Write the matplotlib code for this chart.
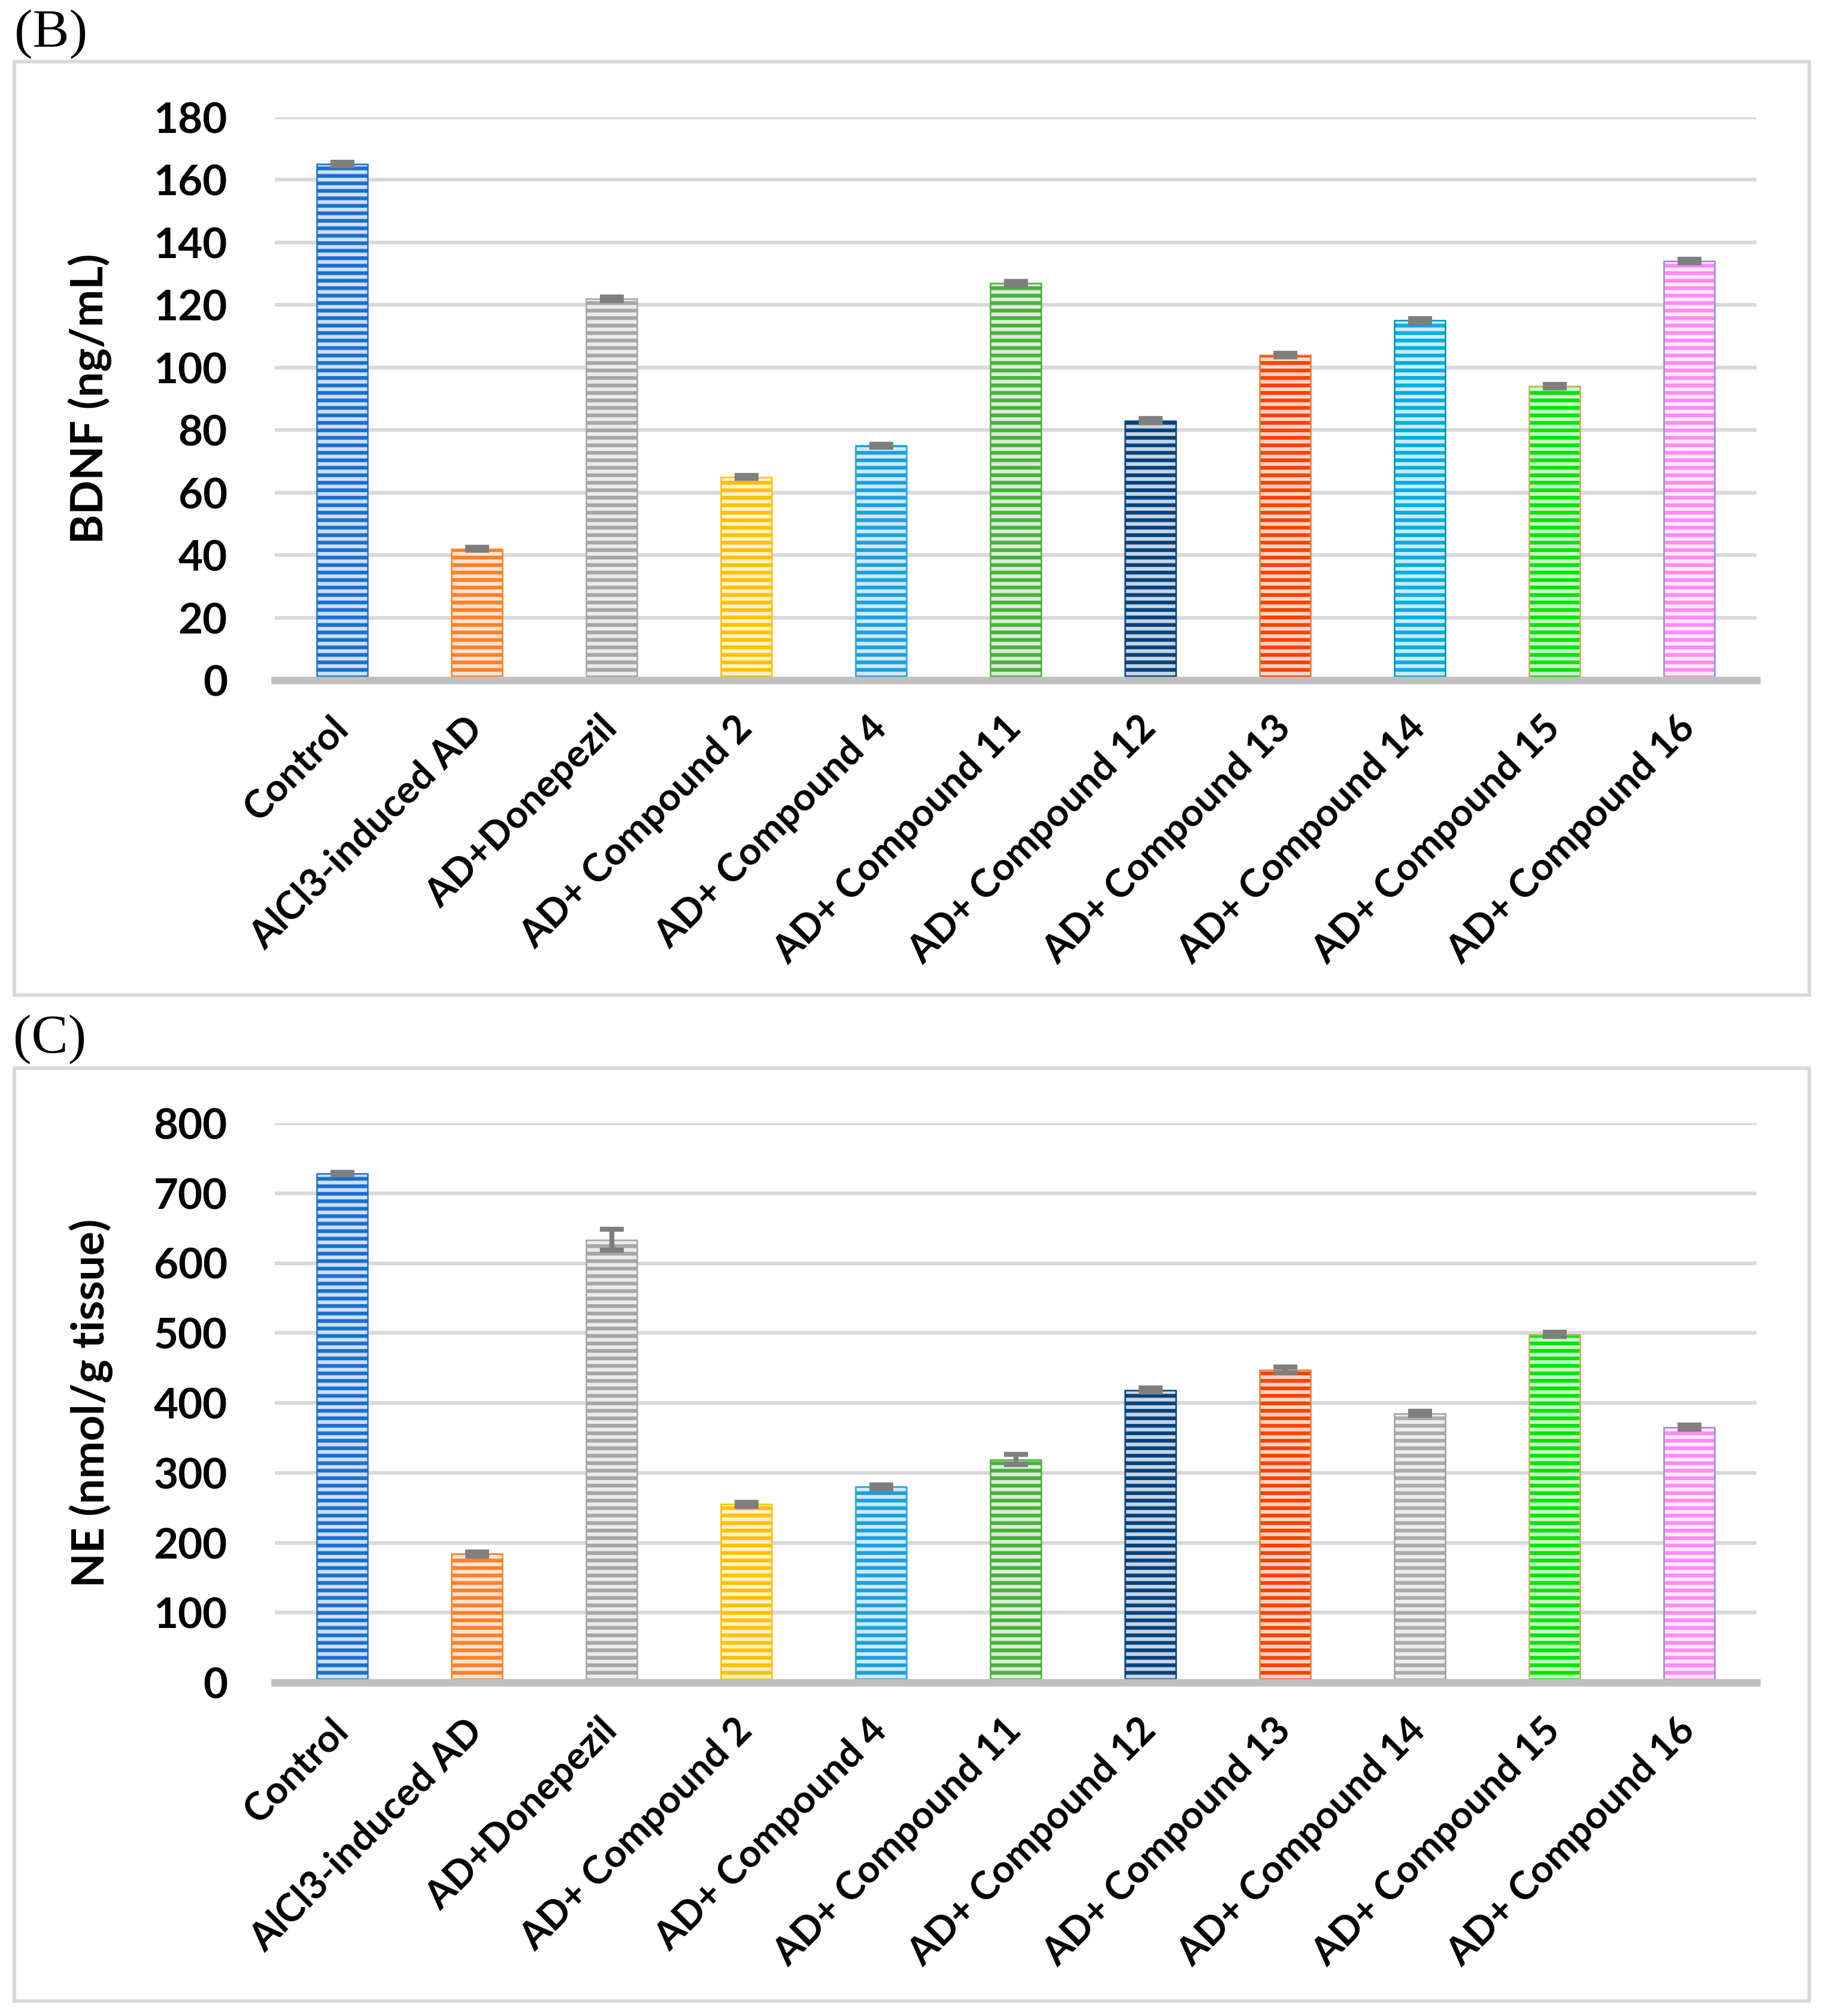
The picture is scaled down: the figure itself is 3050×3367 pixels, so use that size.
import matplotlib
matplotlib.use("Agg")
import matplotlib.pyplot as plt
from matplotlib.patches import Rectangle
from matplotlib.colors import to_rgb
import numpy as np

# data
groups = ["Control", "AlCl3-induced AD", "AD+Donepezil", "AD+ Compound 2",
          "AD+ Compound 4", "AD+ Compound 11", "AD+ Compound 12",
          "AD+ Compound 13", "AD+ Compound 14", "AD+ Compound 15",
          "AD+ Compound 16"]

bdnf = [165, 42, 122, 65, 75, 127, 83, 104, 115, 94, 134]
bdnf_err = [0.6, 0.5, 0.6, 0.5, 0.5, 0.6, 0.6, 0.6, 0.6, 0.6, 0.6]
bdnf_ticks = [0, 20, 40, 60, 80, 100, 120, 140, 160, 180]

ne = [728, 184, 633, 255, 280, 319, 418, 447, 385, 498, 365]
ne_err = [2, 3, 15, 3, 3, 7, 3, 4, 3, 3, 3]
ne_ticks = [0, 100, 200, 300, 400, 500, 600, 700, 800]

colors_b = ["#1C6FCB", "#FF8129", "#A6A6A6", "#FFC000", "#1E9FDD", "#4CAF3E",
            "#00427E", "#FF4000", "#00ACE0", "#00E400", "#FF8CF2"]
edges_b = ["#1C6FCB", "#FF8129", "#A6A6A6", "#FFC000", "#1E9FDD", "#4CAF3E",
           "#00427E", "#E0803C", "#0090B4", "#D2A85C", "#8C8CD8"]
colors_c = list(colors_b)
colors_c[8] = "#ABABAB"
edges_c = list(edges_b)
edges_c[8] = "#A0A0A0"

plt.rcParams["hatch.linewidth"] = 1.5
tick_font = "Lato"

W, H = 3050, 3367
fig = plt.figure(figsize=(W / 300, H / 300), dpi=300)


def lighten(c, amt):
    r, g, b = to_rgb(c)
    return (r + (1 - r) * amt, g + (1 - g) * amt, b + (1 - b) * amt)


def panel(rect, values, errs, cols, edges, ticks, ylabel, ylab_x):
    ax = fig.add_axes(rect)
    x = np.arange(len(groups))
    for i in range(len(groups)):
        ax.bar(x[i], values[i], width=0.38, color=lighten(cols[i], 0.78),
               edgecolor=cols[i], linewidth=0, hatch="----", zorder=2)
        ax.bar(x[i], values[i], width=0.38, fill=False,
               edgecolor=edges[i], linewidth=0.6, zorder=2.1)
    ax.errorbar(x, values, yerr=errs, fmt="none", ecolor="#7F7F7F",
                elinewidth=2, capsize=4.7, capthick=2, zorder=3)
    ax.set_xlim(-0.5, len(groups) - 0.5)
    ax.set_ylim(ticks[0], ticks[-1])
    ax.set_yticks(ticks)
    ax.set_yticklabels([str(t) for t in ticks], fontsize=17,
                       fontweight="bold", family=tick_font)
    ax.set_xticks(x)
    ax.set_xticklabels(groups, rotation=45, ha="right", va="center",
                       rotation_mode="anchor", fontsize=15.5,
                       fontweight="bold", family=tick_font)
    ax.tick_params(axis="y", length=0, pad=19)
    ax.tick_params(axis="x", length=0, pad=17)
    ax.yaxis.grid(True, color="#D9D9D9", linewidth=1.5)
    ax.set_axisbelow(True)
    for s in ["top", "right", "left"]:
        ax.spines[s].set_visible(False)
    ax.spines["bottom"].set_color("#BFBFBF")
    ax.spines["bottom"].set_linewidth(3)
    ax.spines["bottom"].set_zorder(4)
    ax.set_ylabel(ylabel, fontsize=18, fontweight="bold", family=tick_font)
    ax.yaxis.set_label_coords(ylab_x, 0.5)
    return ax


panel([459 / W, 1 - 1136 / H, 2475 / W, 940 / H], bdnf, bdnf_err,
      colors_b, edges_b, bdnf_ticks, "BDNF (ng/mL)", -0.110)
panel([459 / W, 1 - 2810 / H, 2475 / W, 934 / H], ne, ne_err,
      colors_c, edges_c, ne_ticks, "NE (nmol/g tissue)", -0.109)

# panel frames
for top, bot in [(103, 1662), (1784, 3342)]:
    fig.patches.append(Rectangle((24 / W, 1 - bot / H), (3022 - 24) / W,
                                 (bot - top) / H, transform=fig.transFigure,
                                 fill=False, edgecolor="#D9D9D9", linewidth=1.4))

fig.text(24 / W, 1 - 57 / H, "(B)", fontsize=22, family="Liberation Serif",
         ha="left", va="center")
fig.text(22 / W, 1 - 1736 / H, "(C)", fontsize=22, family="Liberation Serif",
         ha="left", va="center")

fig.savefig("out.png", dpi=300, facecolor="white")
